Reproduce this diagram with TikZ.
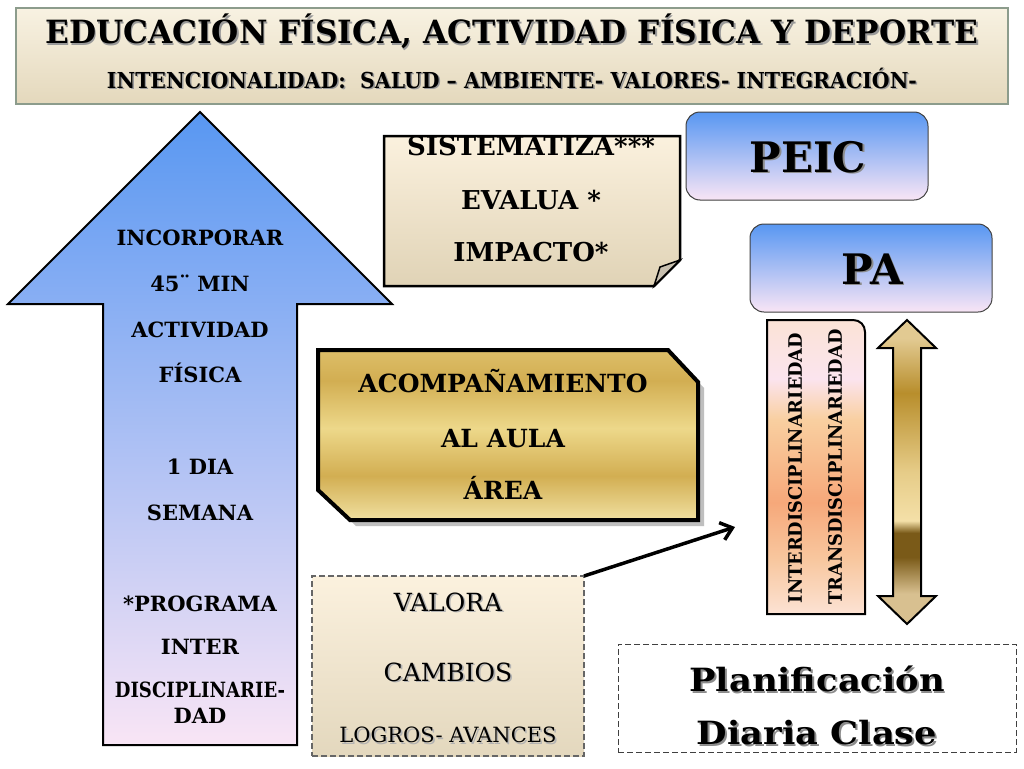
\documentclass[tikz,border=0pt]{standalone}
\usepackage{fontspec}
\usepackage{graphicx}
\setmainfont{DejaVu Serif}
\usetikzlibrary{arrows.meta}
\definecolor{ttltop}{HTML}{F8F2E2}
\definecolor{ttlbot}{HTML}{E4D8BC}
\definecolor{ttlbrd}{HTML}{8C9C8C}
\definecolor{bltop}{HTML}{5897F2}
\definecolor{blmid}{HTML}{9EC2F4}
\definecolor{blbot}{HTML}{F9E5F5}
\definecolor{crtop}{HTML}{FBF1DE}
\definecolor{crbot}{HTML}{E0D3B6}
\definecolor{foldc}{HTML}{C8C0B0}
\definecolor{gA1}{HTML}{F0E0A0}
\definecolor{gA2}{HTML}{D2AE52}
\definecolor{gA3}{HTML}{EDD88A}
\definecolor{gA4}{HTML}{DDBE68}
\definecolor{gB1}{HTML}{E2CA92}
\definecolor{gB2}{HTML}{B88E2C}
\definecolor{gB3}{HTML}{E6CC88}
\definecolor{gB4}{HTML}{F4E0A8}
\definecolor{gB5}{HTML}{7A5A18}
\definecolor{gB6}{HTML}{D8C090}
\definecolor{pk1}{HTML}{FBE3D6}
\definecolor{pk2}{HTML}{FBE4EE}
\definecolor{pk3}{HTML}{F9CFA0}
\definecolor{pk4}{HTML}{F6A87A}
\definecolor{pk5}{HTML}{F8C8A0}
\definecolor{pk6}{HTML}{FCE2D4}
\pgfdeclareverticalshading{goldacc}{100bp}{color(0bp)=(gA1); color(25bp)=(gA1); color(38bp)=(gA2); color(52bp)=(gA3); color(66bp)=(gA2); color(75bp)=(gA4); color(100bp)=(gA4)}
\pgfdeclareverticalshading{golddbl}{100bp}{color(0bp)=(gB6); color(25bp)=(gB6); color(30bp)=(gB6); color(36bp)=(gB5); color(40bp)=(gB5); color(42bp)=(gB4); color(50bp)=(gB3); color(63bp)=(gB2); color(72bp)=(gB1); color(100bp)=(gB1)}
\pgfdeclareverticalshading{pinkbox}{100bp}{color(0bp)=(pk6); color(25bp)=(pk6); color(34bp)=(pk5); color(44bp)=(pk4); color(58bp)=(pk3); color(65bp)=(pk2); color(75bp)=(pk1); color(100bp)=(pk1)}
\newcommand{\fs}[1]{\fontsize{#1}{#1}\selectfont}
\newcommand{\shd}[2][black!40]{\leavevmode\rlap{\kern1.6pt\raisebox{-1.6pt}{\color{#1}#2}}#2}
\tikzset{
  lbl/.style={inner sep=0pt, text depth=0pt, anchor=center},
  boxbase/.style={inner sep=0pt, outer sep=0pt},
  dashbox/.style={dash pattern=on 6pt off 3pt},
}
\begin{document}
\begin{tikzpicture}[x=1pt,y=-1pt]
\useasboundingbox (0,0) rectangle (1024,768);
\fill[white] (0,0) rectangle (1024,768);
% title box
\node[boxbase, draw=ttlbrd, line width=1.5pt, top color=ttltop, bottom color=ttlbot, minimum width=992, minimum height=96] (ttl) at (512,56) {};
\node[lbl, text height=23pt, font=\bfseries\fs{32}] (t1) at (512,32) {\scalebox{0.975}[1]{\shd{EDUCACIÓN FÍSICA, ACTIVIDAD FÍSICA Y DEPORTE}}};
\node[lbl, text height=16pt, font=\bfseries\fs{22}] (t2) at (512,80) {\scalebox{0.93}[1]{\shd{INTENCIONALIDAD:\ \ SALUD – AMBIENTE- VALORES- INTEGRACIÓN-}}};
% big blue arrow
\shade[draw=black, line width=2pt, top color=bltop, middle color=blmid, bottom color=blbot]
  (200,112) -- (392,304) -- (297,304) -- (297,745) -- (103,745) -- (103,304) -- (8,304) -- cycle;
\begin{scope}[every node/.style={lbl, text height=15pt, font=\bfseries\fs{21}}]
\node (a1) at (200,238) {INCORPORAR};
\node (a2) at (200,284) {45¨ MIN};
\node (a3) at (200,330) {ACTIVIDAD};
\node (a4) at (200,375) {FÍSICA};
\node (a5) at (200,467) {1 DIA};
\node (a6) at (200,513) {SEMANA};
\node (a7) at (200,604) {*PROGRAMA};
\node (a8) at (200,647) {INTER};
\node (a9) at (200,690) {\scalebox{0.86}[1]{DISCIPLINARIE-}};
\node (a10) at (200,716) {DAD};
\end{scope}
% sistematiza note with folded corner
\shade[draw=black, line width=2.5pt, top color=crtop, bottom color=crbot]
  (384,136) -- (680,136) -- (680,260) -- (654,286) -- (384,286) -- cycle;
\filldraw[fill=foldc, draw=black, line width=1.5pt] (680,260) -- (660,267) -- (654,286) -- cycle;
\begin{scope}[every node/.style={lbl, text height=19pt, font=\bfseries\fs{26}}]
\node (s1) at (531,146) {SISTEMATIZA***};
\node (s2) at (531,200) {EVALUA *};
\node (s3) at (531,252) {IMPACTO*};
\end{scope}
% PEIC and PA
\node[boxbase, draw=black!75, line width=1pt, rounded corners=14pt, top color=bltop, middle color=blmid!80!white, bottom color=blbot, minimum width=242, minimum height=88] (peic) at (807,156) {};
\node[lbl, text height=30pt, font=\bfseries\fs{42}] (peict) at (808,157) {\shd[black!45]{PEIC}};
\node[boxbase, draw=black!75, line width=1pt, rounded corners=14pt, top color=bltop, middle color=blmid!80!white, bottom color=blbot, minimum width=242, minimum height=88] (pa) at (871,268) {};
\node[lbl, text height=30pt, font=\bfseries\fs{42}] (pat) at (872,269) {\shd[black!45]{PA}};
% acompanamiento
\fill[black!25] (324,356) -- (674,356) -- (704,388) -- (704,526) -- (356,526) -- (324,496) -- cycle;
\shade[draw=black, line width=4pt, shading=goldacc]
  (318,350) -- (668,350) -- (698,382) -- (698,520) -- (350,520) -- (318,490) -- cycle;
\begin{scope}[every node/.style={lbl, text height=18pt, font=\bfseries\fs{25}}]
\node (c1) at (503,383) {ACOMPAÑAMIENTO};
\node (c2) at (503,438) {AL AULA};
\node (c3) at (503,490) {ÁREA};
\end{scope}
% vertical text box
\shade[draw=black, line width=2pt, shading=pinkbox]
  (767,614) -- (767,320) -- (853,320) .. controls (860,320) and (865,325) .. (865,332) -- (865,614) -- cycle;
\node[lbl, text height=13.5pt, font=\bfseries\fs{18.5}, rotate=90] (v1) at (795,468) {\scalebox{0.96}[1]{INTERDISCIPLINARIEDAD}};
\node[lbl, text height=13.5pt, font=\bfseries\fs{18.5}, rotate=90] (v2) at (835,467) {\scalebox{0.96}[1]{TRANSDISCIPLINARIEDAD}};
% double arrow
\shade[draw=black, line width=2pt, shading=golddbl]
  (907,320) -- (936,348) -- (921,348) -- (921,596) -- (936,596) -- (907,624) -- (878,596) -- (893,596) -- (893,348) -- (878,348) -- cycle;
% valora box
\node[boxbase, draw=black!60, dashbox, line width=1.3pt, top color=crtop, bottom color=crbot!90!white, minimum width=272, minimum height=180] (val) at (448,666) {};
\node[lbl, text height=18pt, font=\fs{25}] (w1) at (448,602) {\shd[black!30]{VALORA}};
\node[lbl, text height=18pt, font=\fs{25}] (w2) at (448,672) {\shd[black!30]{CAMBIOS}};
\node[lbl, text height=15pt, font=\fs{21}] (w3) at (448,735) {\shd[black!30]{LOGROS- AVANCES}};
% connector
\coordinate (tipc) at (735,527);
\draw[line width=3.5pt, -{Straight Barb[length=11pt,width=18pt,line width=3.5pt]}] (val.north east) -- (tipc);
% planificacion box
\node[boxbase, draw=black!75, dashbox, line width=1pt, fill=white, minimum width=398, minimum height=108] (plan) at (817,698) {};
\node[lbl, text height=23pt, font=\bfseries\fs{32}] (p1) at (817,680) {\scalebox{1.1}[1]{\shd[black!45]{Planificación}}};
\node[lbl, text height=23pt, font=\bfseries\fs{32}] (p2) at (817,733) {\scalebox{1.1}[1]{\shd[black!45]{Diaria Clase}}};
\end{tikzpicture}
\end{document}
